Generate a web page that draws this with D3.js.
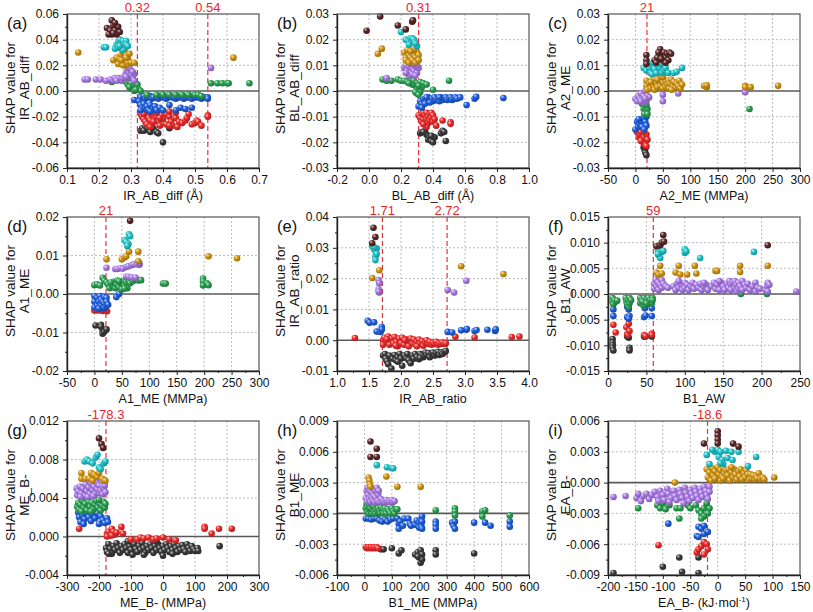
<!DOCTYPE html>
<html><head><meta charset="utf-8">
<script src="https://cdn.jsdelivr.net/npm/d3@7"></script>
<style>body{margin:0;background:#fff}svg{display:block;font-family:Arial,"Liberation Sans",sans-serif}</style>
</head><body><svg id="c" width="813" height="612"></svg>
<script>
// ---------------- DATA ----------------
// Colour groups: k=brown, c=cyan, o=gold, p=purple, g=green, b=blue, r=red, d=black
// Panel (a) IR_AB_diff
const A_k=[[0.24,0.055],[0.225,0.049],[0.245,0.051],[0.235,0.047],[0.25,0.047],[0.24,0.044],[0.255,0.044],[0.265,0.046],[0.23,0.044],[0.26,0.05],[0.25,0.053],[0.245,0.045]];
const A_c=[[0.215,0.034],[0.222,0.034],[0.25,0.033],[0.255,0.036],[0.26,0.038],[0.265,0.04],[0.27,0.036],[0.275,0.039],[0.28,0.037],[0.285,0.039],[0.27,0.033],[0.28,0.034],[0.285,0.036],[0.26,0.034],[0.275,0.032],[0.265,0.035],[0.29,0.035]];
const A_o=[[0.135,0.030],[0.245,0.024],[0.255,0.026],[0.26,0.021],[0.265,0.025],[0.27,0.028],[0.275,0.03],[0.28,0.031],[0.285,0.028],[0.29,0.025],[0.28,0.022],[0.29,0.022],[0.3,0.022],[0.31,0.022],[0.285,0.02],[0.62,0.026],[0.275,0.02],[0.27,0.024],[0.285,0.026],[0.295,0.029]];
const A_p=[[0.155,0.009],[0.165,0.009],[0.19,0.009],[0.205,0.009],[0.222,0.008],[0.235,0.009],[0.245,0.008],[0.25,0.01],[0.26,0.01],[0.265,0.009],[0.27,0.008],[0.275,0.01],[0.28,0.012],[0.285,0.015],[0.29,0.017],[0.295,0.014],[0.3,0.012],[0.305,0.01],[0.31,0.013],[0.29,0.01],[0.3,0.016],[0.285,0.011],[0.31,0.008],[0.255,0.008],[0.295,0.018],[0.305,0.015],[0.55,0.018]];
const A_g=[[0.24,0.007],[0.285,0.007],[0.29,0.005],[0.295,0.007],[0.3,0.006],[0.305,0.003],[0.31,0.004],[0.315,0.006],[0.32,0.002],[0.32,0.005],[0.3,0.002],[0.31,0.0],[0.325,0.001],[0.33,0.0],[0.295,0.003],[0.315,0.001],[0.55,0.006],[0.57,0.006],[0.585,0.006],[0.6,0.006],[0.605,0.006],[0.67,0.006],[0.35,-0.003],[0.38,-0.003],[0.4,-0.003],[0.44,-0.003],[0.46,-0.003],[0.48,-0.003],[0.5,-0.003],[0.51,-0.003],[0.52,-0.004],[0.42,-0.003]];
const A_b=[[0.33,-0.005],[0.34,-0.004],[0.345,-0.006],[0.35,-0.005],[0.36,-0.004],[0.365,-0.006],[0.37,-0.005],[0.38,-0.005],[0.385,-0.006],[0.39,-0.004],[0.40,-0.005],[0.41,-0.006],[0.415,-0.005],[0.42,-0.004],[0.43,-0.005],[0.44,-0.006],[0.445,-0.005],[0.45,-0.005],[0.46,-0.004],[0.465,-0.006],[0.47,-0.005],[0.48,-0.005],[0.49,-0.006],[0.495,-0.004],[0.50,-0.005],[0.51,-0.005],[0.52,-0.006],[0.53,-0.005],[0.54,-0.005],[0.54,-0.006],[0.31,-0.007],[0.325,-0.008],[0.33,-0.011],[0.335,-0.013],[0.34,-0.01],[0.345,-0.014],[0.35,-0.012],[0.355,-0.015],[0.36,-0.011],[0.37,-0.014],[0.375,-0.012],[0.38,-0.015],[0.39,-0.013],[0.40,-0.015],[0.42,-0.011],[0.44,-0.015],[0.455,-0.013],[0.47,-0.014],[0.49,-0.013],[0.33,-0.015],[0.36,-0.016]];
const A_r=[[0.33,-0.018],[0.335,-0.02],[0.34,-0.022],[0.345,-0.024],[0.35,-0.019],[0.355,-0.021],[0.36,-0.023],[0.365,-0.026],[0.37,-0.018],[0.375,-0.022],[0.38,-0.02],[0.385,-0.024],[0.39,-0.027],[0.395,-0.019],[0.4,-0.022],[0.41,-0.018],[0.42,-0.02],[0.425,-0.024],[0.43,-0.027],[0.44,-0.021],[0.445,-0.028],[0.45,-0.024],[0.46,-0.025],[0.47,-0.023],[0.475,-0.021],[0.49,-0.026],[0.5,-0.025],[0.505,-0.023],[0.51,-0.024],[0.52,-0.027],[0.54,-0.019],[0.54,-0.02],[0.35,-0.026],[0.34,-0.018],[0.36,-0.028],[0.37,-0.024],[0.39,-0.021],[0.41,-0.026],[0.42,-0.027],[0.48,-0.018],[0.42,-0.016],[0.44,-0.017],[0.38,-0.017]];
const A_d=[[0.33,-0.031],[0.335,-0.029],[0.345,-0.028],[0.35,-0.03],[0.36,-0.032],[0.37,-0.029],[0.38,-0.032],[0.385,-0.033],[0.4,-0.04],[0.42,-0.029],[0.34,-0.031]];
// Panel (b) BL_AB_diff
const B_k=[[-0.015,0.0235],[0.07,0.029],[0.18,0.0255],[0.23,0.024],[0.27,0.027],[0.275,0.0275]];
const B_c=[[0.2,0.023],[0.23,0.02],[0.245,0.0195],[0.26,0.0205],[0.265,0.019],[0.27,0.0205],[0.28,0.02],[0.285,0.019],[0.3,0.0175],[0.25,0.018],[0.29,0.0185]];
const B_o=[[0.055,0.0145],[0.08,0.0165],[0.22,0.015],[0.23,0.013],[0.24,0.015],[0.25,0.014],[0.26,0.013],[0.27,0.015],[0.28,0.014],[0.29,0.013],[0.3,0.015],[0.31,0.014],[0.23,0.012],[0.25,0.011],[0.27,0.012],[0.29,0.011],[0.31,0.012],[0.24,0.016],[0.28,0.016],[0.26,0.0155]];
const B_p=[[0.11,0.005],[0.22,0.009],[0.23,0.01],[0.24,0.008],[0.25,0.0095],[0.26,0.007],[0.27,0.009],[0.28,0.008],[0.29,0.0095],[0.3,0.007],[0.31,0.009],[0.25,0.006],[0.27,0.0065],[0.29,0.006],[0.3,0.01],[0.23,0.007],[0.26,0.0105],[0.28,0.0105]];
const B_g=[[0.085,0.0045],[0.11,0.004],[0.14,0.004],[0.18,0.0045],[0.2,0.004],[0.22,0.004],[0.24,0.0035],[0.26,0.0045],[0.28,0.004],[0.3,0.003],[0.32,0.0035],[0.34,0.003],[0.36,0.0025],[0.29,0.002],[0.3,0.0005],[0.31,0.001],[0.32,-0.0005],[0.3,-0.001],[0.33,0.0015],[0.31,0.002],[0.4,0.0005],[0.5,0.004],[0.27,0.0025],[0.25,0.003],[0.29,-0.0005],[0.31,-0.0015]];
const B_b=[[0.31,-0.006],[0.32,-0.004],[0.33,-0.005],[0.34,-0.0035],[0.35,-0.003],[0.36,-0.004],[0.37,-0.0025],[0.38,-0.0035],[0.39,-0.003],[0.4,-0.004],[0.41,-0.0025],[0.42,-0.0035],[0.43,-0.003],[0.44,-0.004],[0.45,-0.0025],[0.46,-0.0035],[0.47,-0.003],[0.48,-0.0025],[0.49,-0.0035],[0.5,-0.003],[0.51,-0.0025],[0.52,-0.0035],[0.53,-0.003],[0.54,-0.0025],[0.55,-0.003],[0.57,-0.0025],[0.33,-0.0065],[0.35,-0.005],[0.38,-0.0045],[0.36,-0.0025],[0.44,-0.0025],[0.61,-0.0055],[0.66,-0.003],[0.67,-0.0023],[0.84,-0.0027]];
const B_r=[[0.31,-0.0095],[0.32,-0.0105],[0.33,-0.009],[0.33,-0.012],[0.34,-0.0085],[0.34,-0.011],[0.35,-0.0095],[0.35,-0.013],[0.36,-0.0085],[0.36,-0.011],[0.37,-0.01],[0.37,-0.0125],[0.38,-0.009],[0.38,-0.0115],[0.39,-0.0085],[0.39,-0.0105],[0.4,-0.0095],[0.4,-0.012],[0.41,-0.011],[0.42,-0.0135],[0.36,-0.014],[0.34,-0.013],[0.46,-0.0115],[0.51,-0.0122],[0.51,-0.0128]];
const B_d=[[0.32,-0.0165],[0.33,-0.016],[0.35,-0.0155],[0.36,-0.017],[0.37,-0.019],[0.38,-0.018],[0.39,-0.0195],[0.4,-0.02],[0.41,-0.018],[0.45,-0.0165],[0.46,-0.0155],[0.47,-0.016],[0.48,-0.0195],[0.34,-0.016],[0.39,-0.0175]];
// Panel (c) A2_ME
const C_k=[[20,0.014],[20,0.012],[20,0.0105],[35,0.012],[40,0.013],[45,0.0162],[48,0.014],[50,0.012],[52,0.015],[55,0.013],[58,0.0145],[60,0.012],[62,0.015],[65,0.0145],[42,0.015],[38,0.011],[55,0.011],[47,0.0125]];
const C_c=[[15,0.009],[20,0.008],[22,0.01],[25,0.009],[28,0.007],[32,0.011],[35,0.0085],[40,0.01],[45,0.009],[48,0.007],[50,0.01],[52,0.008],[55,0.009],[60,0.007],[70,0.007],[75,0.0075],[85,0.009],[45,0.0105],[30,0.0065],[38,0.007]];
const C_o=[[20,0.004],[20,0.002],[22,0.0005],[25,0.003],[28,0.001],[30,0.004],[32,0.002],[35,0.0045],[35,0.0005],[38,0.003],[40,0.0015],[42,0.004],[45,0.002],[45,0.005],[48,0.0035],[50,0.001],[52,0.003],[55,0.004],[55,0.0015],[58,0.0025],[60,0.004],[62,0.001],[62,0.003],[65,0.0045],[68,0.002],[70,0.0035],[72,0.001],[75,0.003],[78,0.002],[80,0.004],[82,0.001],[85,0.0025],[40,0.0045],[28,0.0035],[50,0.0055],[66,0.0005],[125,0.002],[130,0.0015],[130,0.0022],[200,0.002],[200,0.0015],[210,0.0015],[260,0.002]];
const C_p=[[0,-0.003],[3,-0.004],[5,-0.002],[8,-0.003],[10,-0.001],[12,-0.003],[15,-0.002],[18,0],[20,-0.004],[22,-0.002],[14,-0.0045],[25,-0.0025],[10,-0.004],[18,-0.003],[50,-0.0015],[50,-0.004],[78,-0.001],[200,-0.0005]];
const C_g=[[12,-0.005],[15,-0.007],[18,-0.006],[20,-0.008],[22,-0.007],[16,-0.009],[20,-0.0055],[22,-0.009],[208,-0.007]];
const C_b=[[0,-0.015],[3,-0.012],[5,-0.014],[8,-0.013],[10,-0.012],[12,-0.014],[15,-0.0105],[18,-0.012],[20,-0.0135],[16,-0.015],[6,-0.011],[20,-0.01]];
const C_r=[[3,-0.016],[6,-0.018],[8,-0.017],[10,-0.016],[12,-0.019],[14,-0.02],[16,-0.018],[18,-0.021],[20,-0.017],[22,-0.019],[15,-0.016],[20,-0.0215],[10,-0.0195]];
const C_d=[[15,-0.022],[17,-0.023],[18,-0.024],[20,-0.025],[16,-0.0215],[19,-0.022]];
// Panel (d) A1_ME
const D_k=[[65,0.019]];
const D_c=[[55,0.014],[58,0.0135],[62,0.013],[63,0.0155],[65,0.015],[60,0.0125]];
const D_o=[[22,0.009],[50,0.009],[55,0.0095],[58,0.0098],[63,0.011],[80,0.011],[80,0.0085],[208,0.0098],[260,0.0093]];
const D_p=[[22,0.0068],[38,0.0065],[42,0.0065],[48,0.0067],[52,0.0066],[58,0.007],[62,0.0072],[68,0.0075],[72,0.0077],[78,0.0077],[82,0.0076],[58,0.0045],[62,0.0045],[68,0.0043],[75,0.0043],[82,0.008]];
const D_g=[[0,0.0023],[5,0.0025],[10,0.0022],[15,0.0042],[18,0.0035],[22,0.003],[25,0.0025],[28,0.0015],[32,0.0022],[35,0.0032],[38,0.0015],[40,0.0025],[42,0.0035],[45,0.0018],[48,0.0028],[50,0.0012],[52,0.0033],[55,0.0022],[58,0.003],[60,0.0015],[62,0.0035],[65,0.0028],[70,0.0033],[75,0.0038],[80,0.0035],[85,0.0036],[30,0.003],[45,0.0033],[55,0.0014],[125,0.0027],[130,0.0027],[198,0.004],[198,0.0033],[198,0.0022],[205,0.0028],[208,0.0023]];
const D_b=[[0,-0.0005],[0,-0.002],[0,-0.0035],[5,-0.001],[5,-0.003],[8,-0.002],[10,-0.0005],[12,-0.0015],[12,-0.003],[15,-0.002],[18,-0.0008],[18,-0.0025],[20,-0.0035],[22,-0.001],[22,-0.002],[25,-0.0028],[40,-0.0008],[45,0.0],[15,-0.0037],[8,-0.0038]];
const D_r=[[0,-0.0043],[5,-0.0043],[10,-0.0042],[15,-0.0044],[20,-0.0043],[23,-0.0045],[18,-0.004]];
const D_d=[[2,-0.0082],[12,-0.008],[15,-0.0095],[15,-0.0103],[18,-0.0098],[22,-0.0092],[12,-0.0085]];
// Panel (e) IR_AB_ratio
const E_k=[[1.57,0.0365],[1.6,0.0335],[1.55,0.0315]];
const E_c=[[1.55,0.0305],[1.58,0.0295],[1.6,0.029],[1.62,0.0298],[1.6,0.0272],[1.6,0.026],[1.62,0.028],[1.58,0.0302]];
const E_o=[[1.55,0.0202],[1.66,0.0227],[2.94,0.024],[3.6,0.0215]];
const E_p=[[1.65,0.0195],[1.66,0.0185],[1.65,0.0165],[1.66,0.0155],[1.65,0.0158],[2.73,0.0163],[2.83,0.0155],[3.02,0.0193]];
const E_g=[];
const E_b=[[1.48,0.0063],[1.51,0.0057],[1.58,0.0058],[1.62,0.0028],[1.68,0.0027],[1.7,0.0043],[1.7,0.0035],[2.73,0.0027],[2.8,0.0025],[2.94,0.0032],[3.02,0.0034],[3.03,0.0036],[3.15,0.003],[3.18,0.0033],[3.35,0.0034],[3.47,0.003],[3.48,0.0035]];
const E_r=[[1.28,0.0007],[1.72,0.0],[1.72,-0.0015],[1.74,0.0008],[1.77,-0.0005],[1.8,0.0012],[1.82,-0.0015],[1.85,0.0005],[1.88,-0.001],[1.9,0.001],[1.93,-0.0005],[1.95,-0.002],[1.97,0.0005],[2.0,-0.001],[2.02,0.0008],[2.05,-0.0015],[2.08,0.0003],[2.1,-0.0005],[2.12,-0.002],[2.15,0.0005],[2.18,-0.001],[2.2,0.0002],[2.23,-0.0015],[2.25,-0.0005],[2.28,0.0002],[2.3,-0.0012],[2.33,-0.0003],[2.35,-0.0018],[2.38,-0.0008],[2.4,0.0],[2.43,-0.0012],[2.45,-0.0005],[2.48,-0.0015],[2.5,-0.0008],[2.53,-0.0012],[2.55,-0.0005],[2.58,-0.0015],[2.6,-0.001],[2.63,-0.0012],[2.65,-0.0008],[2.68,-0.0012],[2.7,-0.001],[1.78,0.0003],[1.92,-0.0018],[2.06,0.0],[2.25,-0.002],[2.85,0.0011],[3.15,0.0009],[3.73,0.001],[3.85,0.0012]];
const E_d=[[1.72,-0.005],[1.75,-0.0045],[1.76,-0.006],[1.78,-0.0068],[1.8,-0.0078],[1.82,-0.005],[1.85,-0.0092],[1.87,-0.006],[1.9,-0.0048],[1.92,-0.0065],[1.95,-0.0055],[1.98,-0.0045],[2.0,-0.006],[2.02,-0.0083],[2.05,-0.005],[2.08,-0.0058],[2.1,-0.0045],[2.12,-0.0065],[2.15,-0.0075],[2.18,-0.005],[2.2,-0.006],[2.22,-0.0045],[2.25,-0.0055],[2.28,-0.0062],[2.3,-0.0045],[2.33,-0.005],[2.35,-0.0055],[2.38,-0.004],[2.4,-0.0048],[2.43,-0.0042],[2.45,-0.0055],[2.48,-0.0045],[2.5,-0.004],[2.53,-0.005],[2.55,-0.0042],[2.58,-0.0038],[2.6,-0.0048],[2.63,-0.004],[2.65,-0.0045],[2.68,-0.0038],[2.7,-0.0035],[1.95,-0.007],[2.3,-0.0058]];
// Panel (f) B1_AW
const F_k=[[63,0.0093],[68,0.0095],[70,0.01],[72,0.0115],[73,0.0102],[208,0.0095]];
const F_c=[[65,0.0085],[66,0.0075],[68,0.007],[70,0.0082],[72,0.0084],[100,0.0087],[100,0.008],[102,0.0083],[120,0.007],[190,0.0082],[65,0.0078]];
const F_o=[[63,0.0042],[66,0.0038],[68,0.0055],[70,0.004],[88,0.0042],[92,0.0055],[94,0.0038],[103,0.0038],[113,0.0055],[115,0.004],[140,0.0045],[142,0.0045],[172,0.0055],[172,0.0043],[208,0.0055]];
const F_p=[[60,0.002],[60,0.001],[62,0.0028],[63,0.0015],[65,0.0022],[66,0.0008],[68,0.0018],[70,0.0027],[70,0.0012],[72,0.002],[75,0.0015],[78,0.0012],[85,0.0015],[88,0.0008],[90,0.002],[92,0.0012],[95,0.0018],[97,0.0008],[100,0.0022],[100,0.0012],[103,0.0018],[105,0.0008],[108,0.0015],[110,0.0022],[112,0.001],[115,0.0018],[118,0.0012],[120,0.002],[122,0.0008],[125,0.0015],[128,0.0018],[130,0.0008],[135,0.0015],[138,0.0022],[140,0.001],[142,0.0018],[145,0.0008],[148,0.0022],[150,0.0015],[152,0.0008],[155,0.002],[157,0.0012],[158,0.0025],[160,0.0018],[160,0.0008],[162,0.0022],[165,0.0012],[165,0.0025],[167,0.0018],[168,0.0005],[170,0.0022],[170,0.001],[172,0.0015],[175,0.0025],[175,0.0008],[178,0.0018],[180,0.0012],[182,0.002],[185,0.0008],[188,0.0015],[192,0.0022],[192,0.0005],[195,0.0012],[198,0.001],[205,0.0008],[207,0.0015],[208,0.0022],[208,0.0005],[210,0.0018],[145,0.0025],[125,0.0022],[92,0.0025],[245,0.0005]];
const F_g=[[6,-0.0008],[6,-0.0015],[8,-0.0012],[7,-0.002],[10,-0.0015],[12,-0.0013],[23,-0.0008],[24,-0.0015],[25,-0.002],[26,-0.0012],[27,-0.0025],[28,-0.0008],[28,-0.0018],[30,-0.0012],[42,-0.0008],[42,-0.0018],[44,-0.0012],[46,-0.0022],[47,-0.0008],[48,-0.0015],[50,-0.0012],[52,-0.002],[53,-0.0008],[54,-0.0015],[55,-0.0012],[57,-0.0018],[58,-0.0008],[58,-0.0012],[45,-0.0015],[50,-0.0018],[173,0],[207,0]];
const F_b=[[7,-0.003],[7,-0.0043],[25,-0.0025],[27,-0.003],[25,-0.0045],[28,-0.0043],[27,-0.0048],[47,-0.0045],[49,-0.0042],[48,-0.0028],[57,-0.0043],[57,-0.0028]];
const F_r=[[7,-0.006],[10,-0.0075],[24,-0.0065],[25,-0.0078],[26,-0.008],[28,-0.0072],[27,-0.0058],[47,-0.008],[49,-0.0082],[57,-0.0077],[57,-0.008]];
const F_d=[[6,-0.0088],[6,-0.0095],[6,-0.01],[6,-0.0105],[7,-0.011],[25,-0.0083],[27,-0.0085],[28,-0.0105],[28,-0.011],[47,-0.0083],[49,-0.0083],[57,-0.0083]];
// Panel (g) ME_B-
const G_k=[[-200,0.0102],[-192,0.0096],[-187,0.0092]];
const G_c=[[-245,0.0078],[-238,0.008],[-230,0.0078],[-220,0.0076],[-210,0.0082],[-205,0.0085],[-200,0.0072],[-195,0.007],[-185,0.0076],[-180,0.0078]];
const G_o=[[-255,0.0066],[-255,0.006],[-242,0.006],[-230,0.006],[-225,0.0066],[-215,0.0064],[-205,0.0062],[-200,0.0066],[-190,0.006],[-185,0.0058],[-180,0.0058],[-220,0.0058]];
const G_p=[[-270,0.005],[-268,0.0043],[-265,0.0047],[-260,0.0052],[-255,0.0045],[-250,0.005],[-245,0.0042],[-242,0.0054],[-238,0.0047],[-232,0.0051],[-228,0.0044],[-225,0.0055],[-220,0.0048],[-215,0.0052],[-212,0.0044],[-208,0.0056],[-205,0.0049],[-200,0.0053],[-198,0.0045],[-195,0.0048],[-190,0.0052],[-188,0.0044],[-185,0.005],[-182,0.0053],[-180,0.0046],[-258,0.0041],[-235,0.0041],[-218,0.0042]];
const G_g=[[-268,0.0031],[-265,0.0035],[-262,0.0028],[-258,0.0033],[-252,0.0037],[-248,0.003],[-243,0.0034],[-238,0.0027],[-232,0.0036],[-228,0.0031],[-222,0.0035],[-218,0.0028],[-212,0.0033],[-208,0.0037],[-203,0.003],[-198,0.0034],[-195,0.0027],[-190,0.0032],[-186,0.0036],[-182,0.003],[-180,0.0034],[-255,0.0026],[-225,0.0026],[-200,0.0038]];
const G_b=[[-265,0.0025],[-262,0.002],[-258,0.0015],[-252,0.0022],[-245,0.0018],[-240,0.0024],[-232,0.002],[-225,0.0016],[-220,0.0023],[-212,0.0019],[-205,0.0024],[-200,0.0013],[-195,0.0021],[-188,0.0017],[-182,0.0014],[-175,0.0019],[-172,0.0015],[-248,0.0013]];
const G_r=[[-262,0.0008],[-175,0.0003],[-170,0.0005],[-165,0.0001],[-160,0.0008],[-155,0.0005],[-150,0.0002],[-145,0.0004],[-130,0.001],[-125,0.0003],[-100,-0.0003],[-80,-0.0003],[-70,-0.0001],[-60,-0.0002],[-45,-0.0001],[-30,-0.0003],[-20,-0.0002],[0,-0.0001],[20,-0.0003],[40,-0.0004],[130,0.001],[130,0.0008],[152,0.0003],[175,0.0008],[215,0.0008],[-175,0.0],[-160,0.0001]];
const G_d=[[-178,-0.0012],[-175,-0.0016],[-170,-0.0008],[-165,-0.0013],[-160,-0.0018],[-155,-0.001],[-150,-0.0014],[-145,-0.0007],[-140,-0.0012],[-135,-0.0017],[-130,-0.001],[-125,-0.0014],[-120,-0.0008],[-115,-0.0012],[-110,-0.0017],[-105,-0.001],[-100,-0.0014],[-95,-0.0019],[-90,-0.0008],[-85,-0.0013],[-80,-0.0016],[-75,-0.001],[-70,-0.0014],[-65,-0.0007],[-60,-0.0012],[-55,-0.0017],[-50,-0.001],[-45,-0.0014],[-40,-0.0008],[-35,-0.0012],[-30,-0.0017],[-25,-0.001],[-20,-0.0014],[-15,-0.0008],[-10,-0.0012],[-5,-0.0016],[0,-0.002],[0,-0.001],[5,-0.0014],[10,-0.0008],[15,-0.0012],[20,-0.0016],[25,-0.001],[30,-0.0014],[35,-0.0008],[40,-0.0012],[45,-0.0016],[50,-0.001],[55,-0.0014],[60,-0.0009],[65,-0.0013],[70,-0.0016],[75,-0.0008],[80,-0.0012],[85,-0.0015],[90,-0.001],[95,-0.0013],[100,-0.0015],[108,-0.0012],[110,-0.0015],[-170,-0.0018],[-110,-0.0005],[-60,-0.0019],[-20,-0.0005],[30,-0.0018],[177,-0.001]];
// Panel (h) B1_ME
const H_k=[[22,0.007],[45,0.0063],[22,0.0055],[45,0.0055]];
const H_c=[[45,0.0047],[82,0.0045],[100,0.0044],[105,0.0044]];
const H_o=[[15,0.0035],[18,0.0032],[20,0.0028],[22,0.0026],[80,0.0036],[120,0.0026],[205,0.0026]];
const H_p=[[5,0.0015],[8,0.0022],[10,0.0012],[12,0.0025],[15,0.0018],[18,0.0014],[20,0.0022],[22,0.0011],[25,0.0016],[28,0.002],[30,0.0013],[32,0.0024],[35,0.0017],[38,0.0011],[40,0.0022],[42,0.0015],[45,0.0025],[48,0.0012],[50,0.0018],[52,0.0022],[55,0.0011],[60,0.0014],[65,0.0011],[70,0.0012],[75,0.0011],[80,0.0013],[85,0.0011],[90,0.0012],[95,0.0011],[100,0.0013],[105,0.0011],[110,0.0012]];
const H_g=[[5,0.0005],[8,0.0009],[10,0.0002],[12,0.0006],[15,0.0],[18,0.0008],[20,0.0003],[22,0.0005],[25,0.0009],[28,0.0],[30,0.0004],[32,0.0007],[35,0.0002],[38,0.0006],[40,0.0],[42,0.0004],[45,0.0008],[48,0.0002],[50,0.0005],[55,0.0003],[58,0.0],[60,0.0006],[65,0.0002],[68,0.0004],[70,0.0],[75,0.0005],[78,0.0002],[80,0.0],[85,0.0004],[90,0.0002],[95,0.0],[100,0.0005],[105,0.0002],[110,0.0],[115,0.0004],[120,0.0004],[260,0.0003],[330,0.0005],[330,0.0002],[330,-0.0002],[430,0.0002],[430,-0.0003],[440,0.0003],[530,-0.0002]];
const H_b=[[5,-0.0005],[15,-0.0005],[25,-0.0006],[35,-0.0005],[45,-0.0005],[55,-0.0007],[65,-0.0008],[75,-0.0006],[85,-0.0008],[95,-0.0006],[105,-0.0005],[120,-0.0005],[125,-0.001],[125,-0.0015],[130,-0.0008],[140,-0.0012],[145,-0.0005],[160,-0.0005],[165,-0.001],[170,-0.0012],[185,-0.0011],[190,-0.0007],[195,-0.0012],[200,-0.0009],[200,-0.0014],[205,-0.0006],[207,-0.001],[208,-0.0013],[210,-0.0003],[210,-0.0008],[210,-0.0015],[260,-0.0008],[260,-0.0011],[260,-0.0015],[320,-0.0009],[325,-0.0012],[330,-0.0008],[330,-0.0015],[400,-0.0009],[440,-0.0009],[460,-0.0012],[530,-0.0008],[530,-0.0013]];
const H_r=[[5,-0.0033],[10,-0.0034],[15,-0.0033],[20,-0.0034],[25,-0.0033],[30,-0.0034],[35,-0.0033],[40,-0.0034],[45,-0.0033],[50,-0.0034]];
const H_d=[[60,-0.0035],[70,-0.0035],[100,-0.0034],[125,-0.0039],[135,-0.0036],[185,-0.004],[195,-0.0038],[200,-0.0043],[205,-0.0036],[210,-0.004],[205,-0.0048],[260,-0.0036],[260,-0.004],[400,-0.0039],[210,-0.0045],[195,-0.0042]];
// Panel (i) EA_B-
const I_k=[[0,0.005],[0,0.0046],[0,0.0042],[0,0.0038],[-25,0.0038],[28,0.0038],[38,0.0035]];
const I_c=[[-20,0.0027],[-15,0.0018],[-5,0.003],[0,0.0032],[2,0.0025],[5,0.003],[8,0.0022],[10,0.0018],[15,0.0031],[18,0.0024],[25,0.003],[27,0.0022],[38,0.003],[55,0.0016],[70,0.0025],[-10,0.0032],[5,0.0019]];
const I_o=[[-20,0.0013],[-18,0.0005],[-15,0.001],[-12,0.0002],[-10,0.0014],[-8,0.0007],[-5,0.0011],[-2,0.0003],[0,0.0015],[2,0.0008],[5,0.0012],[5,0.0002],[8,0.0006],[10,0.0014],[12,0.0009],[15,0.0004],[15,0.0012],[18,0.0007],[20,0.0013],[22,0.0002],[25,0.001],[28,0.0005],[30,0.0013],[32,0.0008],[35,0.0003],[38,0.0011],[40,0.0006],[42,0.0013],[45,0.0003],[48,0.0009],[50,0.0005],[52,0.0012],[55,0.0008],[58,0.0003],[60,0.0008],[62,0.0004],[65,0.0007],[68,0.0003],[70,0.0006],[72,0.0004],[75,0.0009],[78,0.0004],[82,0.0005],[85,0.0003],[103,0.0005],[-78,0.0],[-5,0.0004],[25,0.0015],[10,0.0004]];
const I_p=[[-190,-0.0014],[-168,-0.0013],[-148,-0.0015],[-145,-0.0011],[-140,-0.0018],[-135,-0.0013],[-130,-0.0011],[-125,-0.0016],[-120,-0.0012],[-115,-0.0009],[-110,-0.0014],[-105,-0.0008],[-100,-0.0012],[-97,-0.0017],[-92,-0.0006],[-90,-0.0011],[-85,-0.0015],[-80,-0.0008],[-78,-0.0013],[-75,-0.0017],[-70,-0.0007],[-68,-0.0011],[-65,-0.0015],[-60,-0.0005],[-58,-0.001],[-55,-0.0014],[-52,-0.0018],[-50,-0.0007],[-48,-0.0011],[-45,-0.0015],[-42,-0.0005],[-40,-0.0009],[-38,-0.0013],[-35,-0.0017],[-32,-0.0006],[-30,-0.001],[-28,-0.0014],[-25,-0.0004],[-22,-0.0008],[-20,-0.0012],[-18,-0.0016],[-15,-0.0004],[-15,-0.0009],[-108,-0.0018],[-88,-0.0019],[-62,-0.002]];
const I_g=[[-145,-0.0025],[-110,-0.0022],[-105,-0.0025],[-100,-0.002],[-95,-0.0026],[-88,-0.0022],[-75,-0.0025],[-70,-0.0035],[-68,-0.0025],[-55,-0.0022],[-50,-0.0025],[-40,-0.0022],[-35,-0.0027],[-30,-0.003],[-25,-0.0025],[-20,-0.0022],[-15,-0.0025],[-18,-0.003],[-25,-0.0033],[-30,-0.0035],[-20,-0.002]];
const I_b=[[-90,-0.004],[-35,-0.0043],[-30,-0.0045],[-25,-0.0042],[-38,-0.0052],[-35,-0.0053],[-25,-0.005],[-18,-0.0048]];
const I_r=[[-108,-0.0061],[-38,-0.0068],[-35,-0.0065],[-30,-0.0062],[-25,-0.0058],[-20,-0.006],[-18,-0.0065],[-25,-0.007]];
const I_d=[[-190,-0.0088],[-100,-0.0082],[-70,-0.0073],[-65,-0.0087],[-35,-0.0073],[-35,-0.0088]];

// axis ticks
const A_xt=[0.1,0.2,0.3,0.4,0.5,0.6,0.7], A_yt=[-0.06,-0.04,-0.02,0,0.02,0.04,0.06];
const B_xt=[-0.2,0,0.2,0.4,0.6,0.8,1.0], B_yt=[-0.03,-0.02,-0.01,0,0.01,0.02,0.03];
const C_xt=[-50,0,50,100,150,200,250,300], C_yt=[-0.03,-0.02,-0.01,0,0.01,0.02,0.03];
const D_xt=[-50,0,50,100,150,200,250,300], D_yt=[-0.02,-0.01,0,0.01,0.02];
const E_xt=[1.0,1.5,2.0,2.5,3.0,3.5,4.0], E_yt=[-0.01,0,0.01,0.02,0.03,0.04];
const F_xt=[0,50,100,150,200,250], F_yt=[-0.015,-0.01,-0.005,0,0.005,0.01,0.015];
const G_xt=[-300,-200,-100,0,100,200,300], G_yt=[-0.004,0,0.004,0.008,0.012];
const H_xt=[-100,0,100,200,300,400,500,600], H_yt=[-0.006,-0.003,0,0.003,0.006,0.009];
const I_xt=[-200,-150,-100,-50,0,50,100,150], I_yt=[-0.009,-0.006,-0.003,0,0.003,0.006];
// thresholds (red dashed)
const A_th=[0.32,0.54], B_th=[0.31], C_th=[21], D_th=[21], E_th=[1.71,2.72], F_th=[59], G_th=[-178.3], H_th=[], I_th=[-18.6];
const A_thLab=["0.32","0.54"], B_thLab=["0.31"], C_thLab=["21"], D_thLab=["21"], E_thLab=["1.71","2.72"], F_thLab=["59"], G_thLab=["-178.3"], H_thLab=[], I_thLab=["-18.6"];
const panelLetters=["(a)","(b)","(c)","(d)","(e)","(f)","(g)","(h)","(i)"];
const featureNames=["IR_AB_diff","BL_AB_diff","A2_ME","A1_ME","IR_AB_ratio","B1_AW","ME_B-","B1_ME","EA_B-"];
const xUnits=[" (Å)"," (Å)"," (MMPa)"," (MMPa)","",""," (MMPa)"," (MMPa)"," (kJ·mol"];

// ---------------- LAYOUT ----------------
const groups=["d","r","b","g","p","o","c","k"];
const colors={k:"#5b2727",c:"#1fc6cc",o:"#d39612",p:"#ab7ce8",g:"#2aa152",b:"#1f5fe0",r:"#ef2b2b",d:"#3a3a3a"};
const colX=[67,337,608], rowY=[14,217,421], PW=192, PH=154;
const panels=[
 {xt:A_xt,yt:A_yt,xf:".1f",yf:".2f",th:A_th,tl:A_thLab,data:{k:A_k,c:A_c,o:A_o,p:A_p,g:A_g,b:A_b,r:A_r,d:A_d}},
 {xt:B_xt,yt:B_yt,xf:".1f",yf:".2f",th:B_th,tl:B_thLab,data:{k:B_k,c:B_c,o:B_o,p:B_p,g:B_g,b:B_b,r:B_r,d:B_d}},
 {xt:C_xt,yt:C_yt,xf:"d",yf:".2f",th:C_th,tl:C_thLab,data:{k:C_k,c:C_c,o:C_o,p:C_p,g:C_g,b:C_b,r:C_r,d:C_d}},
 {xt:D_xt,yt:D_yt,xf:"d",yf:".2f",th:D_th,tl:D_thLab,data:{k:D_k,c:D_c,o:D_o,p:D_p,g:D_g,b:D_b,r:D_r,d:D_d}},
 {xt:E_xt,yt:E_yt,xf:".1f",yf:".2f",th:E_th,tl:E_thLab,data:{k:E_k,c:E_c,o:E_o,p:E_p,g:E_g,b:E_b,r:E_r,d:E_d}},
 {xt:F_xt,yt:F_yt,xf:"d",yf:".3f",th:F_th,tl:F_thLab,data:{k:F_k,c:F_c,o:F_o,p:F_p,g:F_g,b:F_b,r:F_r,d:F_d}},
 {xt:G_xt,yt:G_yt,xf:"d",yf:".3f",th:G_th,tl:G_thLab,data:{k:G_k,c:G_c,o:G_o,p:G_p,g:G_g,b:G_b,r:G_r,d:G_d}},
 {xt:H_xt,yt:H_yt,xf:"d",yf:".3f",th:H_th,tl:H_thLab,data:{k:H_k,c:H_c,o:H_o,p:H_p,g:H_g,b:H_b,r:H_r,d:H_d}},
 {xt:I_xt,yt:I_yt,xf:"d",yf:".3f",th:I_th,tl:I_thLab,data:{k:I_k,c:I_c,o:I_o,p:I_p,g:I_g,b:I_b,r:I_r,d:I_d}}
];

const svg=d3.select("#c");
const defs=svg.append("defs");
groups.forEach(k=>{
  const col=d3.color(colors[k]);
  const gr=defs.append("radialGradient").attr("id","ball-"+k)
    .attr("cx","40%").attr("cy","38%").attr("r","62%").attr("fx","32%").attr("fy","28%");
  gr.append("stop").attr("offset","0%").attr("stop-color",d3.interpolateRgb(colors[k],"#fff")(0.75));
  gr.append("stop").attr("offset","45%").attr("stop-color",colors[k]);
  gr.append("stop").attr("offset","100%").attr("stop-color",col.darker(0.9).formatHex());
});

const fmtFn=f=>{const ff=d3.format(f);return v=>ff(v).replace("\u2212","-");};
const mids=t=>t.slice(1).map((v,i)=>(v+t[i])/2);

panels.forEach((P,i)=>{
  const col=i%3,row=Math.floor(i/3);
  const L=colX[col],T=rowY[row];
  const g=svg.append("g").attr("transform",`translate(${L},${T})`);
  const x=d3.scaleLinear().domain([P.xt[0],P.xt[P.xt.length-1]]).range([0,PW]);
  const y=d3.scaleLinear().domain([P.yt[0],P.yt[P.yt.length-1]]).range([PH,0]);
  g.append("g").selectAll("line").data(P.xt.slice(1,-1)).join("line")
    .attr("x1",d=>x(d)).attr("x2",d=>x(d)).attr("y1",0).attr("y2",PH)
    .attr("stroke","#b4b4b4").attr("stroke-width",0.9).attr("stroke-dasharray","2,2");
  g.append("g").selectAll("line").data(P.yt.slice(1,-1).filter(v=>v!==0)).join("line")
    .attr("y1",d=>y(d)).attr("y2",d=>y(d)).attr("x1",0).attr("x2",PW)
    .attr("stroke","#b4b4b4").attr("stroke-width",0.9).attr("stroke-dasharray","2,2");
  g.append("line").attr("x1",0).attr("x2",PW).attr("y1",y(0)).attr("y2",y(0))
    .attr("stroke","#5a5a5a").attr("stroke-width",1.6);
  P.th.forEach((t,j)=>{
    g.append("line").attr("x1",x(t)).attr("x2",x(t)).attr("y1",0).attr("y2",PH)
      .attr("stroke","#e8313a").attr("stroke-width",1.2).attr("stroke-dasharray","5,3");
    g.append("text").attr("x",x(t)).attr("y",-2).attr("text-anchor","middle")
      .attr("font-size",13).attr("fill","#e8262e").text(P.tl[j]);
  });
  const pts=g.append("g");
  groups.forEach(k=>{
    pts.append("g").selectAll("circle").data(P.data[k]).join("circle")
      .attr("cx",d=>x(d[0])).attr("cy",d=>y(d[1])).attr("r",3.3)
      .attr("fill",`url(#ball-${k})`);
  });
  g.append("rect").attr("x",0).attr("y",0).attr("width",PW).attr("height",PH)
    .attr("fill","none").attr("stroke","#555").attr("stroke-width",1.2);
  const xa=g.append("g").attr("transform",`translate(0,${PH})`)
    .call(d3.axisBottom(x).tickValues(P.xt).tickSize(4).tickSizeOuter(0).tickFormat(fmtFn(P.xf)));
  g.append("g").attr("transform",`translate(0,${PH})`)
    .call(d3.axisBottom(x).tickValues(mids(P.xt)).tickSize(2).tickSizeOuter(0).tickFormat(""))
    .call(s=>s.select(".domain").remove());
  const ya=g.append("g")
    .call(d3.axisLeft(y).tickValues(P.yt).tickSize(4).tickSizeOuter(0).tickFormat(fmtFn(P.yf)));
  g.append("g")
    .call(d3.axisLeft(y).tickValues(mids(P.yt)).tickSize(2).tickSizeOuter(0).tickFormat(""))
    .call(s=>s.select(".domain").remove());
  [xa,ya].forEach(a=>{
    a.select(".domain").attr("stroke","#222").attr("stroke-width",1.4);
    a.selectAll("text").attr("font-size",12).attr("fill","#111").attr("font-family",'Arial,"Liberation Sans",sans-serif');
  });
  ya.selectAll("text").attr("dx","-1");
  svg.selectAll(".tick line").attr("stroke","#222");
  // panel letter
  svg.append("text").attr("x",L-60).attr("y",T+15).attr("font-size",16.5).attr("fill","#111").text(panelLetters[i]);
  // y title (two lines)
  const yt=svg.append("text").attr("transform",`translate(${L-52},${T+PH/2-3}) rotate(-90)`)
    .attr("text-anchor","middle").attr("font-size",13.5).attr("fill","#111");
  yt.append("tspan").attr("x",0).attr("dy",0).text("SHAP value for");
  yt.append("tspan").attr("x",0).attr("dy",13.5).text(featureNames[i]);
  // x title
  const xt=svg.append("text").attr("x",L+PW/2).attr("y",T+PH+32).attr("text-anchor","middle")
    .attr("font-size",12.5).attr("fill","#111");
  xt.append("tspan").text(featureNames[i]+xUnits[i]);
  if(i===8){
    xt.append("tspan").attr("font-size",8).attr("dy",-5).text("-1");
    xt.append("tspan").attr("dy",5).text(")");
  }
});
</script></body></html>
